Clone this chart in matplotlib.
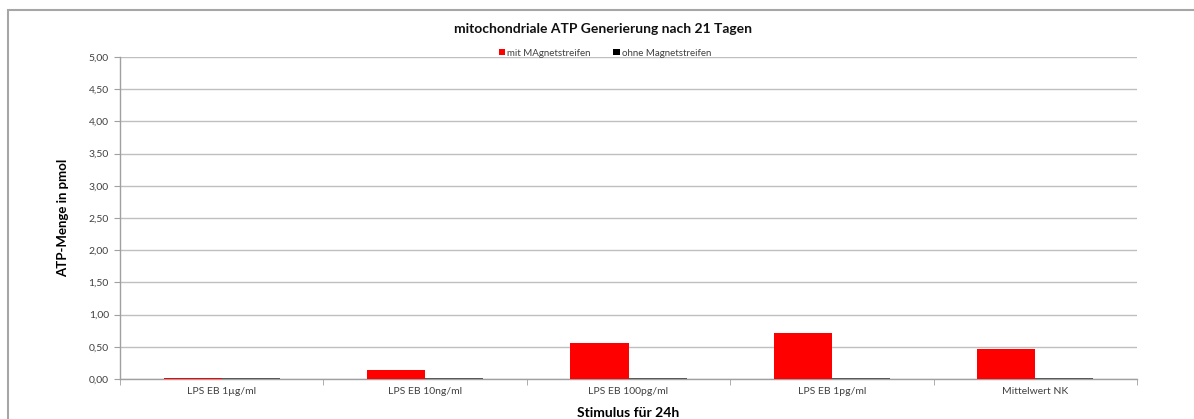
import matplotlib
matplotlib.use("Agg")
import matplotlib.pyplot as plt
import numpy as np
from matplotlib.patches import Rectangle

plt.rcParams['font.family'] = ['Lato', 'DejaVu Sans']

categories = ["LPS EB 1µg/ml", "LPS EB 10ng/ml", "LPS EB 100pg/ml", "LPS EB 1pg/ml", "Mittelwert NK"]
mit_magnet = [0.008, 0.14, 0.56, 0.71, 0.47]
ohne_magnet = [0.01, 0.01, 0.01, 0.01, 0.01]
yticks = [0, 0.5, 1.0, 1.5, 2.0, 2.5, 3.0, 3.5, 4.0, 4.5, 5.0]

fig = plt.figure(figsize=(11.94, 4.19), dpi=100)
ax = fig.add_axes([120/1194, 1-379/419, (1137-120)/1194, (379-57)/419])

x = np.arange(len(categories))
w = 1/3.5
ax.bar(x - w/2, mit_magnet, w, color='#ff0000', label='mit MAgnetstreifen', zorder=3)
ax.bar(x + w/2, ohne_magnet, w, color='#000000', label='ohne Magnetstreifen', zorder=3, alpha=0.6)

ax.set_xlim(-0.5, len(categories)-0.5)
ax.set_ylim(0, 5)
ax.set_yticks(yticks)
ax.set_yticklabels([f"{v:.2f}".replace('.', ',') for v in yticks], fontsize=7.5, color='#404040')
ax.set_xticks(x)
ax.set_xticklabels(categories, fontsize=7.5, color='#404040')
ax.tick_params(axis='x', length=0, pad=6)
ax.set_xticks(np.arange(-0.5, len(categories), 1), minor=True)
ax.tick_params(axis='x', which='minor', length=4, color='#a0a0a0', direction='out')
ax.tick_params(axis='y', length=4, color='#a0a0a0', direction='out', pad=4)
ax.grid(axis='y', color='#bfbfbf', linewidth=1, zorder=0)
for s in ['top', 'right']:
    ax.spines[s].set_visible(False)
for s in ['left', 'bottom']:
    ax.spines[s].set_color('#a0a0a0')
    ax.spines[s].set_linewidth(1)

ax.set_ylabel('ATP-Menge in pmol', fontsize=9.5, fontweight='bold', labelpad=14)
ax.set_xlabel('Stimulus für 24h', fontsize=10, fontweight='bold', labelpad=8)
fig.text(603/1194, 1-29/419, 'mitochondriale ATP Generierung nach 21 Tagen',
         ha='center', va='center', fontsize=10, fontweight='bold', color='#111111')

leg = fig.legend(loc='center', bbox_to_anchor=(605/1194, 1-53/419), ncol=2, frameon=False,
                 fontsize=7, handlelength=0.7, handleheight=0.7, handletextpad=0.2,
                 columnspacing=2.3, labelcolor='#404040')
for h in leg.legend_handles:
    h.set_alpha(1)

fig.patches.append(Rectangle((8/1194, -0.1), 1.2, (1-10/419)+0.1, transform=fig.transFigure,
                             fill=False, edgecolor='#a6a6a6', linewidth=1.5))

fig.savefig('out.png', dpi=100)
